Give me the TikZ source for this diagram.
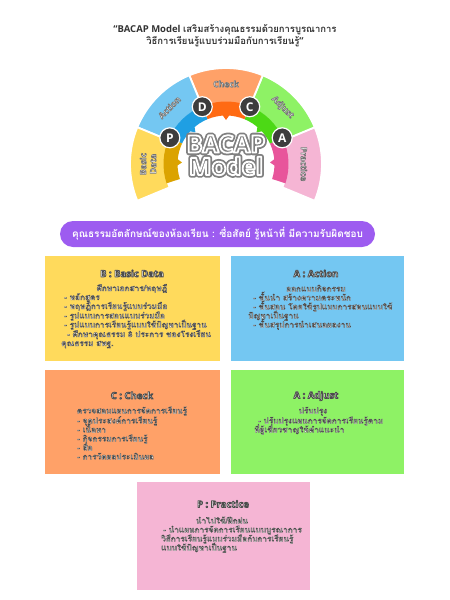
\documentclass[tikz,border=0pt]{standalone}
\usepackage{fontspec}
\setmainfont{Open Sans}
\newfontfamily\thai[Script=Thai]{Loma}
\definecolor{yel}{HTML}{FFDA5C}
\definecolor{yeldark}{HTML}{DBA300}
\definecolor{blu}{HTML}{74C7F2}
\definecolor{bludark}{HTML}{1F9FE3}
\definecolor{org}{HTML}{FFA168}
\definecolor{orgdark}{HTML}{FF6A13}
\definecolor{grn}{HTML}{8EF265}
\definecolor{grndark}{HTML}{4CD915}
\definecolor{pnk}{HTML}{F5B5D4}
\definecolor{pnkdark}{HTML}{E8559B}
\definecolor{purp}{HTML}{9D5CF0}
\definecolor{circ}{HTML}{3D3D3D}
\definecolor{midgray}{HTML}{7F7F7F}
\definecolor{titlegray}{HTML}{333333}
% outlined text: #1 stroke width, #2 stroke rgb, #3 text (fill = current colour)
\newcommand\stk[3]{\special{pdf:literal #2 RG #1 w 1 j 2 Tr}#3\special{pdf:literal 0 Tr}}
\newcommand\bt[1]{\stk{0.38}{0.3 0.3 0.3}{#1}}
\newcommand\seglab[1]{\stk{0.6}{0.45 0.45 0.45}{#1}}
\newcommand\btitle[1]{\stk{0.8}{0.3 0.3 0.3}{#1}}
\tikzset{
  boxnode/.style={draw=none, inner sep=0pt, minimum width=#1},
  bodytxt/.style={inner sep=0pt, text=white, font=\thai\bfseries\fontsize{8.2}{9}\selectfont},
  boxtitle/.style={inner sep=0pt, text=white, font=\bfseries\fontsize{9.5}{11}\selectfont},
  seglbl/.style={inner sep=0pt, text=white, align=center, font=\bfseries\fontsize{8.5}{10}\selectfont},
  bigtxt/.style={inner sep=0pt, text=midgray, font=\bfseries\fontsize{24}{24}\selectfont},
  letter/.style={circle, fill=circ, draw=white, line width=1.2pt, minimum size=20pt, inner sep=0pt, text=white, font=\bfseries\fontsize{12}{12}\selectfont},
}
\begin{document}
\begin{tikzpicture}[x=1pt,y=-1pt]
\useasboundingbox (0,0) rectangle (450,600);

% title
\node[align=center, text=titlegray, inner sep=0pt, font=\bfseries\fontsize{9.5}{12}\selectfont] (title) at (225,36)
  {“BACAP Model {\thai\bfseries เสริมสร้างคุณธรรมด้วยการบูรณาการ}\\{\thai\bfseries วิธีการเรียนรู้แบบร่วมมือกับการเรียนรู้}”};

% arch
\begin{scope}[shift={(226,164)}, y=1pt]
  \foreach \a/\b/\c in {-22.5/22.5/pnk, 22.5/67.5/grn, 67.5/112.5/org, 112.5/157.5/blu, 157.5/202.5/yel}
    \filldraw[fill=\c, draw=white, line width=1.8pt, line join=miter]
      (\a:96) arc[start angle=\a, end angle=\b, radius=96] -- (\b:61) arc[start angle=\b, end angle=\a, radius=61] -- cycle;
  \foreach \a/\b/\c in {-18/25/pnkdark, 25/67.5/grndark, 67.5/112.5/orgdark, 112.5/155/bludark, 155/198/yeldark}
    \fill[\c] (\a:62.5) arc[start angle=\a, end angle=\b, radius=62.5] -- (\b:48.5) arc[start angle=\b, end angle=\a, radius=48.5] -- cycle;
  \foreach \m/\c in {2/pnkdark, 46/grndark, 90/orgdark, 134/bludark, 178/yeldark}
    \fill[\c] ({\m-4}:49) -- (\m:44) -- ({\m+4}:49) -- cycle;
  \node[letter] (cP) at (155:62) {P};
  \node[letter] (cD) at (112.5:62) {D};
  \node[letter] (cC) at (67.5:62) {C};
  \node[letter] (cA) at (25:62) {A};
  \node[seglbl, rotate=90] (lBasic) at (180:78) {\seglab{Basic}\\\seglab{Data}};
  \node[seglbl, rotate=45] (lAction) at (135:80) {\seglab{Action}};
  \node[seglbl] (lCheck) at (90:80) {\seglab{Check}};
  \node[seglbl, rotate=-45] (lAdjust) at (45:80) {\seglab{Adjust}};
  \node[seglbl, rotate=-90] (lPractice) at (0:78) {\seglab{Practice}};
\end{scope}

% center text: grey outer line + white band + grey letters (two layers)
\node[bigtxt] (bacapO) at (226,144) {\stk{5.4}{0.5 0.5 0.5}{BACAP}};
\node[bigtxt] (bacap) at (226,144) {\stk{1.8}{1 1 1}{BACAP}};
\node[bigtxt] (modelO) at (226,166) {\stk{5.4}{0.5 0.5 0.5}{Model}};
\node[bigtxt] (model) at (226,166) {\stk{1.8}{1 1 1}{Model}};

% banner
\node[fill=purp, rounded corners=13pt, minimum width=315pt, minimum height=26pt, inner sep=0pt, text=white,
      font=\thai\bfseries\fontsize{10}{12}\selectfont] (banner) at (217.5,234)
  {คุณธรรมอัตลักษณ์ของห้องเรียน : ซื่อสัตย์ รู้หน้าที่ มีความรับผิดชอบ};

% boxes
\node[boxnode=175pt, fill=yel, minimum height=105pt] (boxB) at (132.5,308.5) {};
\node[boxnode=173pt, fill=blu, minimum height=105pt] (boxA1) at (317.5,308.5) {};
\node[boxnode=175pt, fill=org, minimum height=104pt] (boxC) at (132.5,422) {};
\node[boxnode=173pt, fill=grn, minimum height=104pt] (boxA2) at (317.5,422) {};
\node[boxnode=173pt, fill=pnk, minimum height=108pt] (boxP) at (223.5,536) {};

% titles
\node[boxtitle, anchor=base] (tB) at (132,277) {\btitle{B : Basic Data}};
\node[boxtitle, anchor=base] (tA1) at (316,277) {\btitle{A : Action}};
\node[boxtitle, anchor=base] (tC) at (132,399) {\btitle{C : Check}};
\node[boxtitle, anchor=base] (tA2) at (316,398.5) {\btitle{A : Adjust}};
\node[boxtitle, anchor=base] (tP) at (223,507.5) {\btitle{P : Practice}};

% B body
\node[bodytxt, anchor=base] (b0) at (132,291) {\bt{ศึกษาเอกสาร/ทฤษฎี}};
\node[bodytxt, anchor=base west] (b1) at (64,300) {\bt{- หลักสูตร}};
\node[bodytxt, anchor=base west] (b2) at (64,309) {\bt{- ทฤษฎีการเรียนรู้แบบร่วมมือ}};
\node[bodytxt, anchor=base west] (b3) at (64,318.5) {\bt{- รูปแบบการสอนแบบร่วมมือ}};
\node[bodytxt, anchor=base west] (b4) at (64,327.5) {\bt{- รูปแบบการเรียนรู้แบบใช้ปัญหาเป็นฐาน}};
\node[bodytxt, anchor=base west] (b5) at (67,337) {\bt{- ศึกษาคุณธรรม 8 ประการ ของโรงเรียน}};
\node[bodytxt, anchor=base west] (b6) at (61,346) {\bt{คุณธรรม สพฐ.}};

% Action body
\node[bodytxt, anchor=base] (a0) at (316,291.5) {\bt{ออกแบบกิจกรรม}};
\node[bodytxt, anchor=base west] (a1) at (253,300.5) {\bt{- ขั้นนำ สร้างความตระหนัก}};
\node[bodytxt, anchor=base west] (a2) at (253,309.5) {\bt{- ขั้นสอน โดยใช้รูปแบบการสอนแบบใช้}};
\node[bodytxt, anchor=base west] (a3) at (248,318.5) {\bt{ปัญหาเป็นฐาน}};
\node[bodytxt, anchor=base west] (a4) at (253,327.5) {\bt{- ขั้นสรุปการนำเสนอผลงาน}};

% Check body
\node[bodytxt, anchor=base] (c0) at (132,413.5) {\bt{ตรวจสอบแผนการจัดการเรียนรู้}};
\node[bodytxt, anchor=base west] (c1) at (77,423.5) {\bt{- จุดประสงค์การเรียนรู้}};
\node[bodytxt, anchor=base west] (c2) at (77,432.5) {\bt{- เนื้อหา}};
\node[bodytxt, anchor=base west] (c3) at (77,441.5) {\bt{- กิจกรรมการเรียนรู้}};
\node[bodytxt, anchor=base west] (c4) at (77,450.5) {\bt{- สื่อ}};
\node[bodytxt, anchor=base west] (c5) at (77,459.5) {\bt{- การวัดผลประเมินผล}};

% Adjust body
\node[bodytxt, anchor=base] (d0) at (313,413.5) {\bt{ปรับปรุง}};
\node[bodytxt, anchor=base west] (d1) at (258,423.5) {\bt{- ปรับปรุงแผนการจัดการเรียนรู้ตาม}};
\node[bodytxt, anchor=base west] (d2) at (254,432.5) {\bt{ที่ผู้เชี่ยวชาญให้คำแนะนำ}};

% Practice body
\node[bodytxt, anchor=base] (p0) at (222,523.5) {\bt{นำไปใช้/ฝึกฝน}};
\node[bodytxt, anchor=base west] (p1) at (163,532.5) {\bt{- นำแผนการจัดการเรียนแบบบูรณาการ}};
\node[bodytxt, anchor=base west] (p2) at (161,541.5) {\bt{วิธีการเรียนรู้แบบร่วมมือกับการเรียนรู้}};
\node[bodytxt, anchor=base west] (p3) at (161,550.5) {\bt{แบบใช้ปัญหาเป็นฐาน}};
\end{tikzpicture}
\end{document}
